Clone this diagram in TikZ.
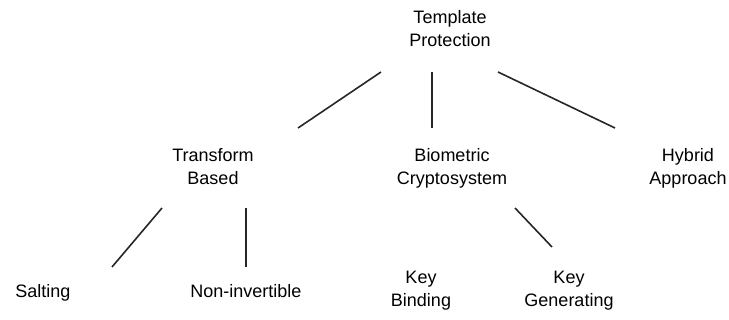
\documentclass[tikz,border=0pt]{standalone}
\usepackage{fontspec}
\setmainfont{Liberation Sans}
\usepackage{tikz}

\begin{document}
\begin{tikzpicture}[x=1pt, y=-1pt,
    lbl/.style={align=center, inner sep=0pt, anchor=base, font=\fontsize{18}{23}\selectfont},
    branch/.style={line width=1.6pt, black!85}]
    \useasboundingbox (0,0) rectangle (729,320);

    % Root of the taxonomy (base = last line)
    \node[lbl] (root) at (450,47) {Template\\Protection};

    % Second level
    \node[lbl] (tb) at (213,185) {Transform\\Based};
    \node[lbl] (bc) at (452,185) {Biometric\\Cryptosystem};
    \node[lbl] (ha) at (688,185) {Hybrid\\Approach};

    % Third level
    \node[lbl] (salt) at (43,298) {Salting};
    \node[lbl] (noninv) at (246,298) {Non-invertible};
    \node[lbl] (kb) at (421,307) {Key\\Binding};
    \node[lbl] (kg) at (569,307) {Key\\Generating};

    % Branches
    \draw[branch] ([shift={(-69,25)}]root.base) -- ([shift={(85,-57)}]tb.base);
    \draw[branch] ([shift={(-18,25)}]root.base) -- ([shift={(-20,-57)}]bc.base);
    \draw[branch] ([shift={(48,25)}]root.base) -- ([shift={(-73,-57)}]ha.base);
    \draw[branch] ([shift={(-51,23)}]tb.base) -- ([shift={(69,-31)}]salt.base);
    \draw[branch] ([shift={(33,23)}]tb.base) -- ([shift={(0,-31)}]noninv.base);
    \draw[branch] ([shift={(63,23)}]bc.base) -- ([shift={(-17,-60)}]kg.base);
\end{tikzpicture}
\end{document}
